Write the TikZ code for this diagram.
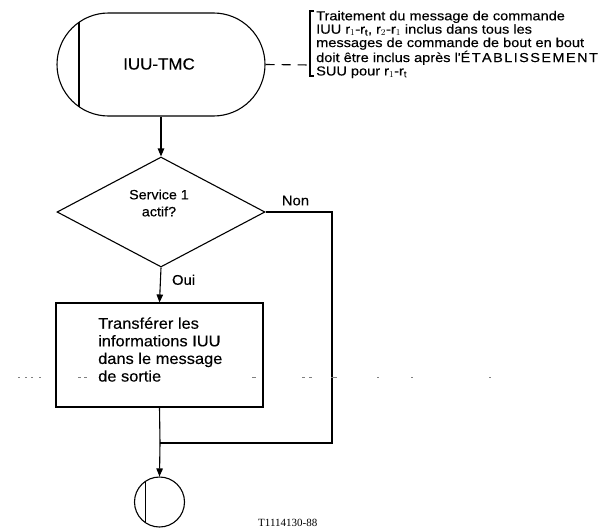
\documentclass[tikz,border=0pt]{standalone}
\usepackage{fontspec}
\setmainfont{Liberation Sans}[FakeStretch=1.06,FakeBold=0.3]
\newfontfamily\cmtfont{Liberation Sans}[FakeStretch=1.12,FakeBold=0.3]
\newfontfamily\labelfont{Liberation Serif}
\newcommand\wk{\kern1.4pt}
\usetikzlibrary{shapes.geometric,shapes.misc,arrows.meta}
\begin{document}
\begin{tikzpicture}[x=1pt,y=-1pt,
  line/.style={line width=1.1pt,black},
  arr/.style={line, -{Triangle[length=8pt,width=6.5pt]}},
  txt/.style={font=\cmtfont\fontsize{13}{13.4}\selectfont, inner sep=0pt},
  lbl/.style={font=\fontsize{14}{15}\selectfont, inner sep=0pt},
  boxtxt/.style={font=\fontsize{15.5}{17.6}\selectfont, inner sep=0pt},
  dectxtstyle/.style={font=\fontsize{13.5}{17}\selectfont, inner sep=0pt},
  artefact/.style={line width=0.6pt, gray},
]
\useasboundingbox (0,0) rectangle (615,530);

% terminal start
\node[rounded rectangle, draw, line width=1.1pt, minimum width=208pt, minimum height=103pt, inner sep=0pt] (start) at (161,64.5) {};
\draw[line] (79,22.3) -- (79,106.7);
\node[lbl, font=\fontsize{16}{17}\selectfont] (starttxt) at (159,64) {IUU-TMC};

% comment bracket
\coordinate (brk) at (310,65);
\draw[line width=1.8pt] (314,11) -- (310,11) -- (310,76) -- (314,76);
\node[txt, anchor=west, align=left] (comment) at (316,44.5) {Traitement du message de commande\\
IUU r$_1$-r$_\mathrm{t}$, r$_2$-r$_1$ inclus dans tous les\\
messages de commande de bout en bout\\
doit être inclus après l'É\wk T\wk A\wk B\wk L\wk I\wk S\wk S\wk E\wk M\wk E\wk N\wk T\\
SUU pour r$_1$-r$_\mathrm{t}$};
\draw[line, dash pattern=on 9pt off 7pt] (start.east) -- (brk);

% decision
\node[diamond, draw, line width=1.1pt, minimum width=208pt, minimum height=110pt, inner sep=0pt] (dec) at (161,212) {};
\node[dectxtstyle, align=center] (dectxt) at (159,203) {Service 1\\actif?};
\draw[arr] (start.south) -- (dec.north);

% process box
\node[rectangle, draw, line width=1.1pt, minimum width=207pt, minimum height=104pt, inner sep=0pt] (proc) at (159.5,355) {};
\node[boxtxt, anchor=west, align=left] (proctxt) at (98,349.5) {Transférer les\\informations IUU\\dans le message\\de sortie};
\draw[arr] (dec.south) -- node[lbl, anchor=west, xshift=11pt, pos=0.35] (oui) {Oui} (proc.north);

% merge and end
\coordinate (nonc) at (332,212);
\coordinate (nonb) at (332,443);
\coordinate (merge) at (160,443);
\node[circle, draw, line width=1.1pt, minimum size=50pt, inner sep=0pt] (end) at (159.5,502) {};
\draw[line] (145.5,481.3) -- (145.5,522.7);
\draw[line] (dec.east) -- node[lbl, above=6pt, pos=0.45] (non) {Non} (nonc) -- (nonb) -- (merge);
\draw[line] (proc.south) -- (merge);
\draw[arr] (merge) -- (end.north);

% figure reference
\node[font=\labelfont\fontsize{11}{12}\selectfont, anchor=base west, inner sep=0pt] (ref) at (258,526) {T1114130-88};

% scanning artefact (dotted line)
\foreach \a/\b in {18/20,25/27,31/33,39/41,78/81,84/87,252/256,302/305,309/312,331/337,377/379,411/413,489/491}
  \draw[artefact] (\a,377) -- (\b,377);
\end{tikzpicture}
\end{document}
